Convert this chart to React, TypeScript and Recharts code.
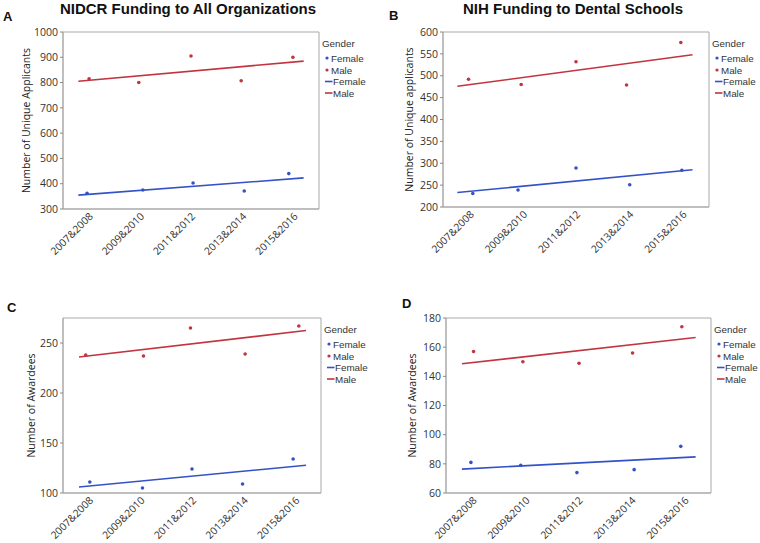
import React from "react";
import { ComposedChart, Scatter, XAxis, YAxis, ReferenceArea } from "recharts";

const categories = ["2007&2008", "2009&2010", "2011&2012", "2013&2014", "2015&2016"];
const catTicks = [1, 2, 3, 4, 5];

// Panel A: NIDCR Funding to All Organizations (unique applicants)
const aMale = [815, 800, 905, 807, 900];
const aMaleX = [1.01, 1.98, 3.0, 3.98, 4.99];
const aFemale = [362, 375, 403, 371, 440];
const aFemaleX = [0.97, 2.06, 3.04, 4.04, 4.91];
const aMaleFit = [805, 885];
const aFemaleFit = [355, 423];
const aFitX = [0.8, 5.2];
const aTicks = [300, 400, 500, 600, 700, 800, 900, 1000];

// Panel B: NIH Funding to Dental Schools (unique applicants)
const bMale = [492, 480, 532, 479, 576];
const bMaleX = [0.98, 1.97, 3.0, 3.95, 4.97];
const bFemale = [231, 239, 289, 251, 284];
const bFemaleX = [1.06, 1.91, 3.0, 4.01, 4.99];
const bMaleFit = [476, 548];
const bFemaleFit = [233, 285];
const bFitX = [0.77, 5.19];
const bTicks = [200, 250, 300, 350, 400, 450, 500, 550, 600];

// Panel C: awardees, all organizations
const cMale = [238, 237, 265, 239, 267];
const cMaleX = [0.94, 2.06, 2.97, 4.03, 5.07];
const cFemale = [111, 105, 124, 109, 134];
const cFemaleX = [1.02, 2.04, 3.0, 3.98, 4.96];
const cMaleFit = [236, 262.5];
const cFemaleFit = [106, 127.8];
const cFitX = [0.81, 5.21];
const cTicks = [100, 150, 200, 250];

// Panel D: awardees, dental schools
const dMale = [157, 150, 149, 156, 174];
const dMaleX = [1.02, 1.95, 3.01, 4.02, 4.95];
const dFemale = [81, 79, 74, 76, 92];
const dFemaleX = [0.97, 1.91, 2.97, 4.05, 4.93];
const dMaleFit = [148.6, 166.6];
const dFemaleFit = [76.4, 84.8];
const dFitX = [0.8, 5.21];
const dTicks = [60, 80, 100, 120, 140, 160, 180];

const BLUE = "#3452c8";
const RED = "#c2343f";
const GRAY = "#a9a9a9";
const FONT = "'Open Sans', 'Noto Sans', sans-serif";
const LEGEND_FONT = "'Liberation Sans', Arial, sans-serif";
const TITLE_FONT = "'Liberation Sans', Arial, sans-serif";

const toPts = (xs: number[], ys: number[]) => ys.map((y, i) => ({ x: xs[i], y }));

const Dot = (color: string) => (props: any) => {
  const { cx, cy } = props;
  if (cx == null || cy == null) return <g />;
  return <circle cx={cx} cy={cy} r={1.8} fill={color} />;
};
const Empty = () => <g />;

const CatTick = (props: any) => {
  const { x, y, payload } = props;
  const ax = x + 5;
  const ay = y;
  return (
    <text
      x={ax}
      y={ay}
      transform={`rotate(-45, ${ax}, ${ay})`}
      textAnchor="end"
      fontSize={10.3}
      fontFamily={FONT}
      fill="#333"
    >
      {categories[payload.value - 1]}
    </text>
  );
};

type Box = { left: number; top: number; right: number; bottom: number };

type PanelProps = {
  left: number;
  top: number;
  width: number;
  height: number;
  box: Box;
  domain: [number, number];
  ticks: number[];
  male: number[];
  maleX: number[];
  female: number[];
  femaleX: number[];
  maleFit: number[];
  femaleFit: number[];
  fitX: number[];
  title?: string;
  letter: string;
  letterPos: [number, number];
  yLabel: string;
  yLabelX: number;
};

const XH = 60;

function Panel(p: PanelProps) {
  const margin = {
    top: p.box.top - p.top,
    right: p.left + p.width - p.box.right,
    left: 0,
    bottom: p.top + p.height - p.box.bottom - XH,
  };
  const bx = p.box.right - p.left;
  const by = p.box.top - p.top;
  const legend = [
    { label: "Female", color: BLUE, kind: "dot", dy: 26 },
    { label: "Male", color: RED, kind: "dot", dy: 38 },
    { label: "Female", color: BLUE, kind: "line", dy: 49.5 },
    { label: "Male", color: RED, kind: "line", dy: 61 },
  ];
  const yMid = (p.box.top + p.box.bottom) / 2 - p.top;
  return (
    <div style={{ position: "absolute", left: p.left, top: p.top, width: p.width, height: p.height }}>
      <ComposedChart width={p.width} height={p.height} margin={margin}>
        <XAxis
          type="number"
          dataKey="x"
          domain={[0.5, 5.5]}
          ticks={catTicks}
          interval={0}
          allowDataOverflow
          tick={<CatTick />}
          tickLine={false}
          axisLine={{ stroke: GRAY }}
          height={XH}
        />
        <YAxis
          type="number"
          dataKey="y"
          domain={p.domain}
          ticks={p.ticks}
          interval={0}
          allowDataOverflow
          width={p.box.left - p.left}
          tick={{ fontSize: 10.5, fill: "#333", fontFamily: FONT }}
          tickLine={{ stroke: "#888" }}
          tickSize={3}
          tickMargin={2}
          axisLine={{ stroke: GRAY }}
        />
        <ReferenceArea
          x1={0.5}
          x2={5.5}
          y1={p.domain[0]}
          y2={p.domain[1]}
          fill="none"
          stroke={GRAY}
          strokeWidth={1}
          fillOpacity={0}
          strokeOpacity={1}
        />
        <Scatter
          data={toPts(p.fitX, p.maleFit)}
          line={{ stroke: RED, strokeWidth: 1.6 }}
          shape={Empty}
          isAnimationActive={false}
        />
        <Scatter
          data={toPts(p.fitX, p.femaleFit)}
          line={{ stroke: BLUE, strokeWidth: 1.6 }}
          shape={Empty}
          isAnimationActive={false}
        />
        <Scatter data={toPts(p.maleX, p.male)} shape={Dot(RED)} isAnimationActive={false} />
        <Scatter data={toPts(p.femaleX, p.female)} shape={Dot(BLUE)} isAnimationActive={false} />
      </ComposedChart>
      <svg
        width={p.width}
        height={p.height}
        style={{ position: "absolute", left: 0, top: 0, pointerEvents: "none" }}
      >
        {p.title ? (
          <text
            x={(p.box.left + p.box.right) / 2 - p.left - 3}
            y={14}
            textAnchor="middle"
            fontFamily={TITLE_FONT}
            fontWeight="bold"
            fontSize={15}
            fill="#111"
          >
            {p.title}
          </text>
        ) : null}
        <text
          x={p.letterPos[0] - p.left}
          y={p.letterPos[1] - p.top}
          fontFamily={TITLE_FONT}
          fontWeight="bold"
          fontSize={13}
          fill="#111"
        >
          {p.letter}
        </text>
        <text
          x={p.yLabelX - p.left}
          y={yMid}
          transform={`rotate(-90, ${p.yLabelX - p.left}, ${yMid})`}
          textAnchor="middle"
          fontFamily={FONT}
          fontSize={10.5}
          fill="#222"
        >
          {p.yLabel}
        </text>
        <text x={bx + 3} y={by + 14.5} fontFamily={LEGEND_FONT} fontSize={9.8} fill="#333">
          Gender
        </text>
        {legend.map((e, i) => (
          <g key={i}>
            {e.kind === "dot" ? (
              <circle cx={bx + 8} cy={by + e.dy} r={1.6} fill={e.color} />
            ) : (
              <line x1={bx + 6} x2={bx + 13.5} y1={by + e.dy} y2={by + e.dy} stroke={e.color} strokeWidth={1.6} />
            )}
            <text
              x={bx + (e.kind === "dot" ? 12 : 14)}
              y={by + e.dy + 3.5}
              fontFamily={LEGEND_FONT}
              fontSize={9.8}
              fill="#333"
            >
              {e.label}
            </text>
          </g>
        ))}
      </svg>
    </div>
  );
}

export default function App() {
  return (
    <div style={{ position: "absolute", left: 0, top: 0, width: 760, height: 543, background: "#fff", overflow: "hidden" }}>
      <Panel
        left={0}
        top={0}
        width={380}
        height={275}
        box={{ left: 63, top: 32, right: 319, bottom: 209 }}
        domain={[300, 1000]}
        ticks={aTicks}
        male={aMale}
        maleX={aMaleX}
        female={aFemale}
        femaleX={aFemaleX}
        maleFit={aMaleFit}
        femaleFit={aFemaleFit}
        fitX={aFitX}
        title="NIDCR Funding to All Organizations"
        letter="A"
        letterPos={[3, 21]}
        yLabel="Number of Unique Applicants"
        yLabelX={30}
      />
      <Panel
        left={380}
        top={0}
        width={380}
        height={275}
        box={{ left: 443, top: 32, right: 709, bottom: 207 }}
        domain={[200, 600]}
        ticks={bTicks}
        male={bMale}
        maleX={bMaleX}
        female={bFemale}
        femaleX={bFemaleX}
        maleFit={bMaleFit}
        femaleFit={bFemaleFit}
        fitX={bFitX}
        title="NIH Funding to Dental Schools"
        letter="B"
        letterPos={[389, 20]}
        yLabel="Number of Unique applicants"
        yLabelX={413}
      />
      <Panel
        left={0}
        top={275}
        width={380}
        height={268}
        box={{ left: 63, top: 318, right: 321, bottom: 493 }}
        domain={[100, 275]}
        ticks={cTicks}
        male={cMale}
        maleX={cMaleX}
        female={cFemale}
        femaleX={cFemaleX}
        maleFit={cMaleFit}
        femaleFit={cFemaleFit}
        fitX={cFitX}
        letter="C"
        letterPos={[7, 312]}
        yLabel="Number of Awardees"
        yLabelX={35}
      />
      <Panel
        left={380}
        top={275}
        width={380}
        height={268}
        box={{ left: 446, top: 318, right: 711, bottom: 493 }}
        domain={[60, 180]}
        ticks={dTicks}
        male={dMale}
        maleX={dMaleX}
        female={dFemale}
        femaleX={dFemaleX}
        maleFit={dMaleFit}
        femaleFit={dFemaleFit}
        fitX={dFitX}
        letter="D"
        letterPos={[402, 308]}
        yLabel="Number of Awardees"
        yLabelX={416}
      />
    </div>
  );
}
